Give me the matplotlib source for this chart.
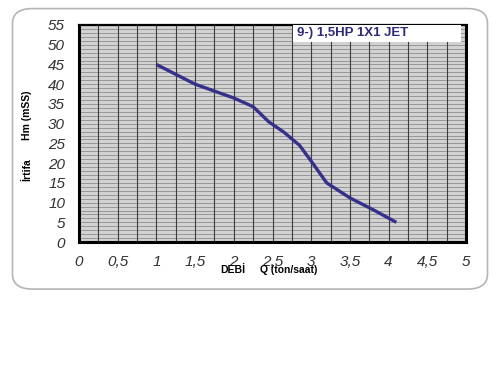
import numpy as np
import matplotlib
matplotlib.use('Agg')
import matplotlib.pyplot as plt
from matplotlib.patches import FancyBboxPatch, Rectangle

# Pump curve
flow = [1.0, 1.5, 2.0, 2.25, 2.45, 2.65, 2.85, 3.0, 3.2, 3.5, 3.8, 4.1]
head = [45, 40, 36.5, 34.3, 30.5, 27.8, 24.5, 20.5, 15, 11.2, 8.2, 5]

x_ticks = [0, 0.5, 1, 1.5, 2, 2.5, 3, 3.5, 4, 4.5, 5]
x_tick_labels = ['0', '0,5', '1', '1,5', '2', '2,5', '3', '3,5', '4', '4,5', '5']
y_ticks = list(range(0, 56, 5))

title = '9-) 1,5HP 1X1 JET'

plt.rcParams['font.family'] = ['Liberation Sans', 'DejaVu Sans']

fig = plt.figure(figsize=(5, 3.73), dpi=100)

# rounded outer frame
frame = FancyBboxPatch((0.025, 0.225), 0.95, 0.752,
                       boxstyle='round,pad=0,rounding_size=0.04',
                       transform=fig.transFigure, facecolor='white',
                       edgecolor='#b5b5b5', linewidth=1.2, zorder=-5)
fig.patches.append(frame)

ax = fig.add_axes([0.158, 0.351, 0.774, 0.582])
ax.set_zorder(2)
ax.set_facecolor('#d2d2d2')
ax.set_xlim(0, 5)
ax.set_ylim(0, 55)

# fine grid
for yv in np.arange(1, 55, 1):
    ax.axhline(yv, color='#8c8c8c', linewidth=0.6, zorder=1)
for xv in np.arange(0.25, 5, 0.25):
    ax.axvline(xv, color='#3c3c3c', linewidth=0.8, zorder=1)

ax.plot(flow, head, color='#35318a', linewidth=2.4,
        solid_capstyle='butt', solid_joinstyle='round', zorder=3)

for side in ['left', 'bottom', 'right']:
    ax.spines[side].set_linewidth(2.2)
ax.spines['top'].set_linewidth(1.6)

ax.set_xticks(x_ticks)
ax.set_xticklabels(x_tick_labels)
ax.set_yticks(y_ticks)
ax.tick_params(length=0, labelsize=11, labelcolor='#333333')
ax.tick_params(axis='x', pad=9)
ax.tick_params(axis='y', pad=10)
for lab in ax.get_xticklabels() + ax.get_yticklabels():
    lab.set_fontstyle('italic')

# title box
ax.add_patch(Rectangle((2.77, 50.8), 2.17, 4.2, facecolor='white',
                       edgecolor='none', zorder=4, clip_on=False))
ax.text(2.82, 52.9, title, fontsize=9.5, fontweight='bold',
        color='#2e2a7a', va='center', ha='left', zorder=5)

# axis labels
fig.text(0.054, 0.69, 'Hm (mSS)', rotation=90, fontsize=7.5,
         fontweight='bold', ha='center', va='center', zorder=6)
fig.text(0.054, 0.545, 'İrtifa', rotation=90, fontsize=7.5,
         fontweight='bold', ha='center', va='center', zorder=6)
fig.text(0.466, 0.276, 'DEBİ', fontsize=7.5, fontweight='bold',
         ha='center', va='center', zorder=6)
fig.text(0.578, 0.276, 'Q (ton/saat)', fontsize=7.5, fontweight='bold',
         ha='center', va='center', zorder=6)

fig.savefig('out.png', dpi=100)
